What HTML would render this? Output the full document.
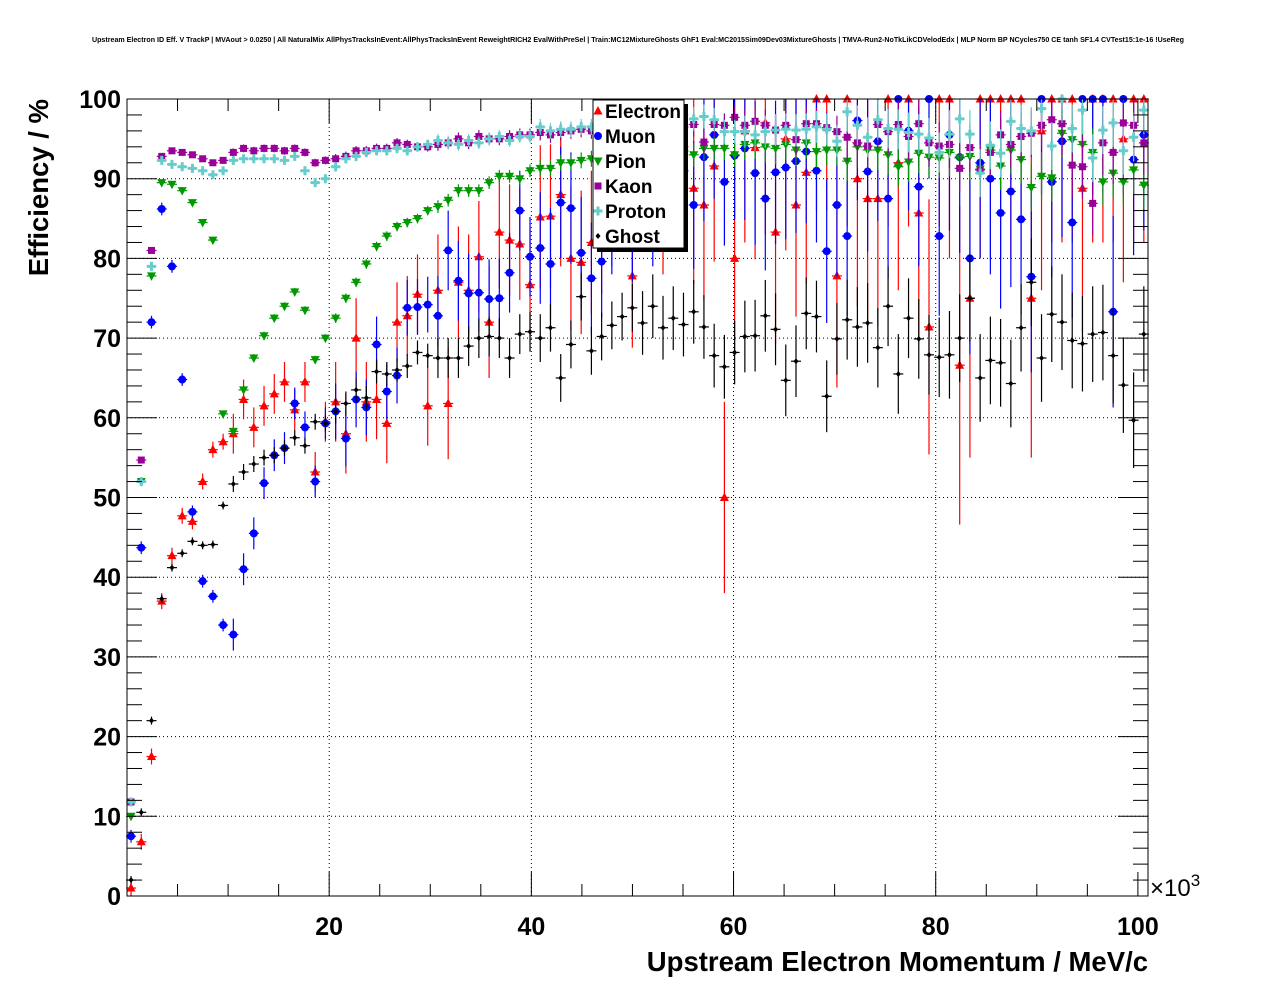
<!DOCTYPE html>
<html><head><meta charset="utf-8"><style>
html,body{margin:0;padding:0;background:#fff;}
svg{display:block;font-family:"Liberation Sans",sans-serif;}
</style></head><body>
<svg id="chart" width="1276" height="996" viewBox="0 0 1276 996" xmlns="http://www.w3.org/2000/svg">
<rect width="1276" height="996" fill="#fff"/>
<text x="638" y="42" text-anchor="middle" font-size="7.1" font-weight="bold">Upstream Electron ID Eff. V TrackP | MVAout &gt; 0.0250 | All NaturalMix AllPhysTracksInEvent:AllPhysTracksInEvent ReweightRICH2 EvalWithPreSel | Train:MC12MixtureGhosts GhF1 Eval:MC2015Sim09Dev03MixtureGhosts | TMVA-Run2-NoTkLikCDVelodEdx | MLP Norm BP NCycles750 CE tanh SF1.4 CVTest15:1e-16 !UseReg</text>
<g id="grid"></g>
<g id="marks"></g>
<g id="axes"></g>
<text x="1148" y="971" text-anchor="end" font-size="27.5" font-weight="bold">Upstream Electron Momentum / MeV/c</text>
<text transform="translate(48,99) rotate(-90)" text-anchor="end" font-size="27.5" font-weight="bold">Efficiency / %</text>
<text x="1150" y="896" font-size="24">×10<tspan dy="-10" font-size="17">3</tspan></text>
<g>
<rect x="597" y="104" width="91" height="148" fill="#000"/>
<rect x="593" y="100" width="91" height="148" fill="#fff" stroke="#000" stroke-width="1"/>
<g id="legend-entries"></g>
</g>
</svg>
<script>
const cats = [];
for (let i = 0; i < 100; i++) cats.push(i);
const ghost = [2,10.5,22,37.3,41.2,43,44.5,44,44.1,49,51.7,53.2,54.2,55,55.3,56.2,57.5,56.5,59.5,59.3,60.8,61.8,63.5,62.5,65.8,65.5,66,66.5,68.2,67.8,67.5,67.5,67.5,69,70,70.2,70,67.5,70.5,70.8,70,71.3,65,69.2,75.2,68.4,70.2,71.6,72.7,73.8,71.9,74.0,71.3,72.5,71.7,73.3,71.4,67.8,66.4,68.2,70.2,70.3,72.8,71.1,64.7,67.1,73.1,72.7,62.7,69.9,72.3,71.4,71.9,68.8,74.0,65.5,72.5,69.9,67.9,67.6,67.9,70.0,75.0,65.0,67.2,66.9,64.3,71.3,77.0,67.5,73.0,72.0,69.7,69.3,70.5,70.7,67.8,64.1,59.7,70.5];
const muon = [7.5,43.7,72,86.2,79,64.8,48.2,39.5,37.6,34,32.8,41,45.5,51.8,55.3,56.2,61.8,58.8,52,59.3,60.8,57.4,62.3,61.3,69.2,63.3,65.3,73.8,73.9,74.2,72.8,81,77.2,75.6,75.7,74.9,75,78.2,86,80.2,81.3,79.3,87,86.3,80.7,77.5,79.6,85,88,84,90,87,92,89,91,86.7,92.7,95.5,89.6,92.9,93.8,90.7,87.5,90.8,91.4,92.2,93.4,91,80.9,86.7,82.8,97.3,90.9,94.7,87.5,100,96.0,89.0,100,82.8,95.5,92.7,80.0,92.0,90.0,85.7,88.4,84.9,77.7,100,89.6,94.7,84.5,100,100,100,73.3,100,92.4,95.5];
const electron = [1,6.8,17.5,37,42.7,47.7,47,52,56,57,58,62.3,58.8,61.5,63,64.5,61,64.5,53.2,59.5,62,58,70,62,62.3,59.3,72,72.8,75.5,61.5,76,61.8,77,76,80.2,72,83.3,82.3,81.8,76.7,85.2,85.3,88,80,79.5,82,84.5,88,90,77.8,93,95,90,96,94,88.8,86.7,91.6,50,80,96,93.9,97,83.3,95,86.7,90.8,100,100,77.8,100,90,87.5,87.5,100,92,100,85.7,71.4,100,100,66.6,75,100,100,100,100,100,75,96,100,100,100,88.8,100,100,100,95,100,100];
const pion = [10,52,77.8,89.5,89.3,88.5,87,84.5,82.3,60.5,58.3,63.5,67.5,70.3,72.5,74,75.8,73.5,67.3,70,72.5,75,77,79.3,81.5,82.8,84,84.5,85,86,86.5,87.3,88.5,88.5,88.5,89.5,90.3,90.3,90,91,91.3,91.3,92,92,92.3,92.5,92.8,93,93,93.2,93.5,93,93.5,94,93.5,93.0,93.8,93.8,93.8,93.0,94.3,94.5,94.0,93.8,94.3,93.6,94.5,93.4,93.6,93.6,92.2,94.0,93.6,93.6,93.0,91.5,92.1,93.2,92.7,92.6,93.3,92.6,92.8,91.2,93.6,91.6,93.6,92.4,88.9,90.3,90.1,95.7,94.9,94.3,93.3,89.6,90.7,89.6,91.1,89.2];
const kaon = [11.8,54.7,81,92.8,93.5,93.3,93,92.5,92,92.3,93.3,93.8,93.5,93.8,93.8,93.5,93.8,93.3,92,92.3,92.5,92.8,93.5,93.5,93.8,93.8,94.5,94.3,94,94,94.3,94.5,95,94.5,95.3,95,95,95.3,95.5,95.5,95.8,95.5,95.8,96,96.2,96,96.3,96,96.5,96,96.5,96.3,96.5,96,96.5,96.8,94.6,96.8,96.7,97.7,96.7,97.2,96.7,96.1,96.7,94.9,96.9,96.9,96.4,95.9,95.2,94.5,94.1,96.8,95.9,96.8,95.3,96.9,94.5,94.1,94.3,91.3,93.9,91.1,93.3,95.5,94.3,95.3,95.7,96.7,97.4,96.9,91.7,91.5,86.9,94.5,93.3,97.0,96.7,94.5];
const proton = [11.8,52,79,92.3,91.8,91.5,91.3,91,90.5,91,92.3,92.5,92.5,92.5,92.5,92.3,92.8,91,89.5,90,91.5,92.5,92.8,93.3,93.5,93.5,93.8,93.5,94,94.3,94.8,94.5,94.3,94.8,94.5,95,95.3,94.8,95.3,95.3,96.5,96,96.2,96.2,96.5,96.5,96.8,97,97,97.5,97,97.5,97,97.5,98,97.5,97.8,97.4,95.9,95.9,95.9,95.5,95.9,96.1,96.2,96.1,96.2,96.5,96.2,94.7,98.4,96.7,95.2,97.4,96.3,96.2,95.8,95.6,95.1,93.3,95.6,97.5,95.6,90.7,94.2,93.2,97.2,96.3,96,98.8,94.1,100,96.3,98.6,92.6,96.1,97,93.5,95.2,98.6];
// error half-lengths per block of 10 bins
const ghostErr = [0.5,1,1.5,2.5,3,4,4.5,5,5.5,6];
const electronErr = [1,2.5,5,7,9,12,14,16,20,18];
const muonErr = [0.8,2,3.5,5,7,8,9,10,12,12];
const pionErr = [0.3,0.5,0.6,0.8,1,1.5,2,2.5,3,3];
const kaonErr = [0.3,0.5,0.6,0.8,1,1.5,2,3,3,4];
const protonErr = [0.3,0.5,0.6,0.8,1,1.5,2,2.5,3,3];
const yTicks = [0,10,20,30,40,50,60,70,80,90,100];
const xTicks = [20,40,60,80,100];
const legendLabels = ["Electron","Muon","Pion","Kaon","Proton","Ghost"];

const NS = "http://www.w3.org/2000/svg";
const X0 = 127, X1 = 1148, Y0 = 896, Y1 = 99;
const XMAX = 101;
function xs(v){ return X0 + (v/XMAX)*(X1-X0); }
function ys(v){ return Y0 - (v/100)*(Y0-Y1); }
function binX(i){ return xs(0.4 + i*1.012); }
function el(tag, attrs, parent){ const e=document.createElementNS(NS,tag); for(const k in attrs) e.setAttribute(k,attrs[k]); parent.appendChild(e); return e; }

const grid = document.getElementById('grid');
const axes = document.getElementById('axes');
const marks = document.getElementById('marks');

yTicks.forEach(t=>{
  if (t>0 && t<100){
    const g = el('line',{x1:X0,x2:X1,y1:ys(t),y2:ys(t),stroke:'#000','stroke-width':1,'stroke-dasharray':'1,3'},grid);
    
    
  }
});
xTicks.forEach(t=>{
  if (t<100){
    const g = el('line',{x1:xs(t),x2:xs(t),y1:Y0,y2:Y1,stroke:'#000','stroke-width':1,'stroke-dasharray':'1,3'},grid);
    
    
  }
});

const series = [
  {vals:electron, err:electronErr, color:'#ff0000', shape:'tri'},
  {vals:muon, err:muonErr, color:'#0000ff', shape:'circ'},
  {vals:pion, err:pionErr, color:'#009900', shape:'tridown'},
  {vals:kaon, err:kaonErr, color:'#990099', shape:'sq'},
  {vals:proton, err:protonErr, color:'#66cccc', shape:'cross'},
  {vals:ghost, err:ghostErr, color:'#000000', shape:'diam'}
];
function marker(shape,cx,cy,color,parent){
  let m;
  if (shape==='tri') m = el('polygon',{points:`${cx},${cy-5} ${cx-4.5},${cy+3.5} ${cx+4.5},${cy+3.5}`,fill:color},parent);
  else if (shape==='tridown') m = el('polygon',{points:`${cx},${cy+5} ${cx-4.5},${cy-3.5} ${cx+4.5},${cy-3.5}`,fill:color},parent);
  else if (shape==='circ') m = el('circle',{cx:cx,cy:cy,r:4,fill:color},parent);
  else if (shape==='sq') m = el('rect',{x:cx-3.5,y:cy-3.5,width:7,height:7,fill:color},parent);
  else if (shape==='cross') m = el('path',{d:`M${cx-4.5},${cy-1.5}h3v-3h3v3h3v3h-3v3h-3v-3h-3z`,fill:color},parent);
  else m = el('polygon',{points:`${cx},${cy-3} ${cx-2.5},${cy} ${cx},${cy+3} ${cx+2.5},${cy}`,fill:color},parent);
  return m;
}
const names = ['electron','muon','pion','kaon','proton','ghost'];
series.forEach((s,si)=>{
  const g = el('g',{},marks);
  
  
  s.vals.forEach((v,i)=>{
    const cx = binX(cats[i]), cy = ys(v);
    const e = s.err[Math.floor(i/10)];
    const top = ys(Math.min(100, v+e)), bot = ys(Math.max(0, v-e));
    el('line',{x1:cx,x2:cx,y1:top,y2:bot,stroke:s.color,'stroke-width':1.2},g);
    el('line',{x1:cx-5,x2:cx+5,y1:cy,y2:cy,stroke:s.color,'stroke-width':1.2},g);
    const m = marker(s.shape,cx,cy,s.color,g);
    
    
  });
});

const fr = el('rect',{x:X0,y:Y1,width:X1-X0,height:Y0-Y1,fill:'none',stroke:'#000','stroke-width':1},axes);


for (let v=0; v<=100; v+=2){
  const major = v%10===0;
  const L = major?30:15;
  el('line',{x1:X0,x2:X0+L,y1:ys(v),y2:ys(v),stroke:'#000','stroke-width':1},axes);
  el('line',{x1:X1,x2:X1-L,y1:ys(v),y2:ys(v),stroke:'#000','stroke-width':1},axes);
}
yTicks.forEach(t=>{
  const tx = el('text',{x:X0-6,y:ys(t)+9,'text-anchor':'end','font-size':25,'font-weight':'bold'},axes);
  tx.textContent = t;
  
  
});
for (let v=5; v<=100; v+=5){
  const major = v%20===0;
  const L = major?24:12;
  el('line',{x1:xs(v),x2:xs(v),y1:Y0,y2:Y0-L,stroke:'#000','stroke-width':1},axes);
  el('line',{x1:xs(v),x2:xs(v),y1:Y1,y2:Y1+L,stroke:'#000','stroke-width':1},axes);
}
xTicks.forEach(t=>{
  const tx = el('text',{x:xs(t),y:935,'text-anchor':'middle','font-size':25,'font-weight':'bold'},axes);
  tx.textContent = t;
  
  
});

const lg = document.getElementById('legend-entries');
legendLabels.forEach((lab,i)=>{
  const y = 111 + i*25;
  const g = el('g',{},lg);
  
  
  marker(series[i].shape, 598, y, series[i].color, g);
  const t = el('text',{x:605,y:y+7,'font-size':19,'font-weight':'bold'},g);
  t.textContent = lab;
});
</script>
</body></html>
